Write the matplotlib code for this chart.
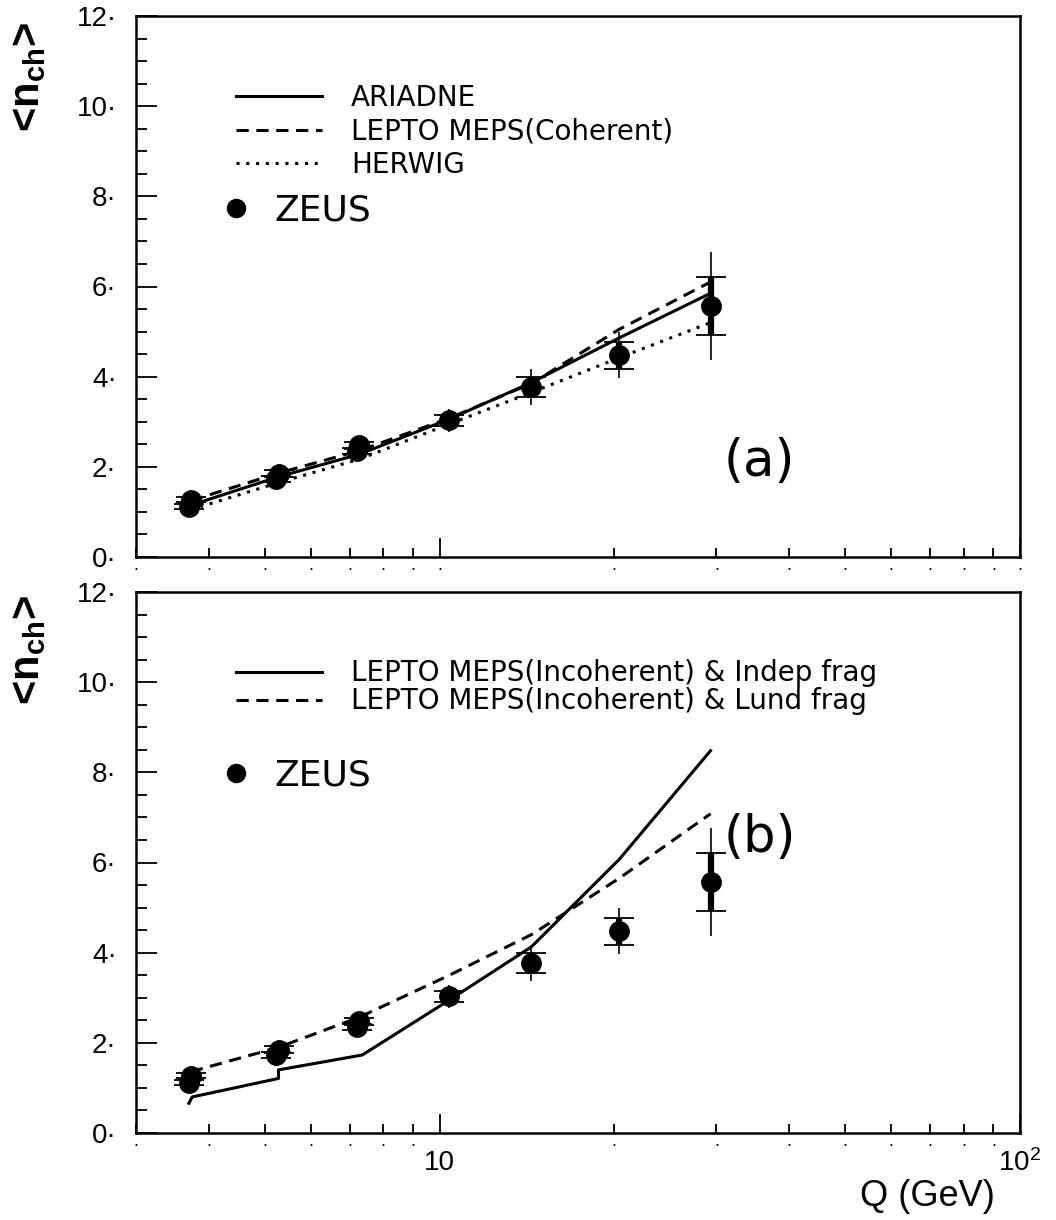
import numpy as np
import matplotlib
matplotlib.use('Agg')
import matplotlib.pyplot as plt
from matplotlib.lines import Line2D
from matplotlib.ticker import MultipleLocator, FuncFormatter, LogLocator

plt.rcParams['font.family'] = ['Liberation Sans', 'DejaVu Sans']

# ZEUS data (two overlapping sets at low Q)
zeus_q = [3.73, 5.28, 7.28, 10.4, 14.4, 20.4, 29.3]
zeus_n = [1.27, 1.85, 2.48, 3.03, 3.78, 4.48, 5.57]
zeus_stat = [0.05, 0.07, 0.08, 0.12, 0.22, 0.30, 0.65]
zeus_tot = [0.10, 0.12, 0.14, 0.25, 0.40, 0.50, 1.20]
zeus2_q = [3.70, 5.22, 7.20]
zeus2_n = [1.12, 1.73, 2.35]
zeus2_stat = [0.05, 0.06, 0.07]
zeus2_tot = [0.10, 0.11, 0.13]

# models, panel (a)
model_q = [3.73, 5.28, 7.28, 10.4, 14.4, 20.4, 29.3]
ariadne = [1.15, 1.78, 2.28, 3.06, 3.87, 4.86, 5.85]
lepto_coh = [1.25, 1.86, 2.36, 3.08, 3.85, 5.05, 6.10]
herwig = [1.05, 1.65, 2.17, 2.95, 3.65, 4.42, 5.20]

# models, panel (b)
indep_q = [3.70, 3.75, 5.28, 5.28, 7.36, 10.4, 14.4, 20.4, 29.3]
indep_n = [0.66, 0.80, 1.21, 1.40, 1.73, 2.95, 4.13, 6.07, 8.48]
lund_n = [1.36, 1.90, 2.57, 3.50, 4.40, 5.65, 7.08]

W, H = 1056, 1220
fig = plt.figure(figsize=(W / 100, H / 100), dpi=100)
ax1 = fig.add_axes([136 / W, 1 - 557 / H, 884 / W, 541 / H])
ax2 = fig.add_axes([136 / W, 1 - 1133 / H, 884 / W, 541 / H])

dash = (0, (4, 2.5))
dot = (0, (1, 2.2))
legfont = {'family': 'DejaVu Sans', 'size': 20}
zeusfont = {'family': 'DejaVu Sans', 'size': 26}


def draw_zeus(ax):
    for q, n, st, tot in [(zeus_q, zeus_n, zeus_stat, zeus_tot),
                          (zeus2_q, zeus2_n, zeus2_stat, zeus2_tot)]:
        ax.errorbar(q, n, yerr=tot, fmt='none', ecolor='k', elinewidth=1.2, zorder=3)
        _, caps, _ = ax.errorbar(q, n, yerr=st, fmt='o', ms=14, color='k',
                                 elinewidth=4.5, capsize=11, capthick=1.3, zorder=4)
        for c in caps:
            c.set_color('#555555')


def style(ax):
    ax.set_xscale('log')
    ax.set_xlim(3, 100)
    ax.set_ylim(0, 12)
    ax.yaxis.set_major_locator(MultipleLocator(2))
    ax.yaxis.set_minor_locator(MultipleLocator(0.5))
    ax.xaxis.set_major_locator(LogLocator(base=10))
    ax.xaxis.set_minor_locator(LogLocator(base=10, subs=np.arange(2, 10)))
    ax.yaxis.set_major_formatter(FuncFormatter(lambda v, p: f'{int(v)}\u00b7'))
    ax.tick_params(axis='both', which='both', direction='in', top=False, right=False, width=1.3)
    ax.tick_params(axis='y', which='major', length=15, pad=14, labelsize=20)
    ax.tick_params(axis='y', which='minor', length=8)
    ax.tick_params(axis='x', which='major', length=14)
    ax.tick_params(axis='x', which='minor', length=6.5, pad=0, labelsize=13)
    ax.xaxis.set_minor_formatter(FuncFormatter(lambda v, p: '.'))
    for s in ax.spines.values():
        s.set_linewidth(1.8)


# panel (a)
ax1.plot(model_q, ariadne, color='k', lw=2.2, label='ARIADNE')
ax1.plot(model_q, lepto_coh, color='k', lw=2.2, ls=dash, label='LEPTO MEPS(Coherent)')
ax1.plot(model_q, herwig, color='k', lw=2.2, ls=dot, label='HERWIG')
draw_zeus(ax1)
style(ax1)
ax1.xaxis.set_major_formatter(FuncFormatter(lambda v, p: '.'))
ax1.tick_params(axis='x', which='major', pad=0, labelsize=13)

leg1 = ax1.legend(loc='center left', bbox_to_anchor=(0.113, 0.787), frameon=False,
                  handlelength=3.1, handletextpad=1.05, labelspacing=0.2,
                  borderpad=0, borderaxespad=0, prop=legfont)
ax1.add_artist(leg1)
ax1.legend([Line2D([], [], marker='o', ls='none', ms=13, color='k')], ['ZEUS'],
           loc='center left', bbox_to_anchor=(0.093, 0.641), frameon=False,
           handlelength=1, handletextpad=0.55, borderpad=0, borderaxespad=0,
           prop=zeusfont)
ax1.text(0.665, 0.176, '(a)', transform=ax1.transAxes, fontsize=37,
         family='DejaVu Sans', va='center', ha='left')

# panel (b)
ax2.plot(indep_q, indep_n, color='k', lw=2.2, label='LEPTO MEPS(Incoherent) & Indep frag')
ax2.plot(model_q, lund_n, color='k', lw=2.2, ls=dash, label='LEPTO MEPS(Incoherent) & Lund frag')
draw_zeus(ax2)
style(ax2)
ax2.xaxis.set_major_formatter(FuncFormatter(
    lambda v, p: '10' if abs(v - 10) < 1e-6 else (r'$\mathregular{10^2}$' if abs(v - 100) < 1e-6 else '')))
ax2.tick_params(axis='x', which='major', pad=12, labelsize=20)

leg2 = ax2.legend(loc='center left', bbox_to_anchor=(0.113, 0.8235), frameon=False,
                  handlelength=3.1, handletextpad=1.05, labelspacing=0.0,
                  borderpad=0, borderaxespad=0, prop=legfont)
ax2.add_artist(leg2)
ax2.legend([Line2D([], [], marker='o', ls='none', ms=13, color='k')], ['ZEUS'],
           loc='center left', bbox_to_anchor=(0.093, 0.66), frameon=False,
           handlelength=1, handletextpad=0.55, borderpad=0, borderaxespad=0,
           prop=zeusfont)
ax2.text(0.665, 0.545, '(b)', transform=ax2.transAxes, fontsize=37,
         family='DejaVu Sans', va='center', ha='left')

# axis labels
ylab = '<n$_{\\mathregular{ch}}$>'
fig.text(28 / W, 1 - 77 / H, ylab, rotation=90, fontsize=30, fontweight='bold',
         ha='center', va='center')
fig.text(28 / W, 1 - 650 / H, ylab, rotation=90, fontsize=30, fontweight='bold',
         ha='center', va='center')
fig.text(995 / W, 1 - 1197 / H, 'Q (GeV)', fontsize=26, ha='right', va='center')

fig.savefig('out.png', dpi=100)
